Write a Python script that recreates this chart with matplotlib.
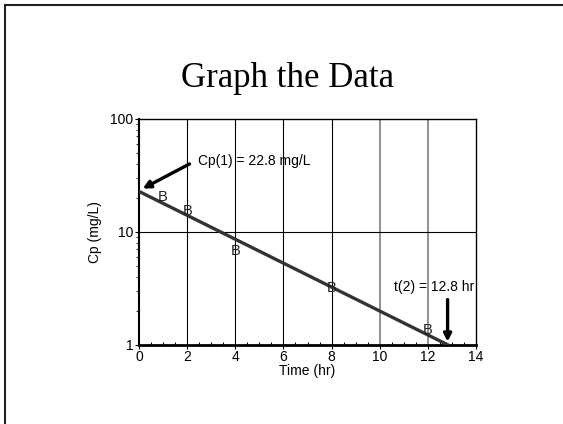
import matplotlib
matplotlib.use("Agg")
import matplotlib.pyplot as plt
import numpy as np
from matplotlib.ticker import MultipleLocator, LogLocator, NullFormatter, FixedLocator

# data
time_hr = [1, 2, 4, 8, 12]
cp_mgl = [20.2, 15.3, 6.8, 3.2, 1.34]
fit_t = [0, 12.8]
fit_cp = [22.8, 1.0]
x_ticks = [0, 2, 4, 6, 8, 10, 12, 14]
y_ticks = [1, 10, 100]

plt.rcParams['font.family'] = ['Liberation Sans', 'DejaVu Sans']

fig = plt.figure(figsize=(5.63, 4.24), dpi=100)
W, H = 563.0, 424.0

# slide border (top + left only visible)
fig.add_artist(plt.Line2D([5 / W, 5 / W], [0, 1 - 4.5 / H], color='#222222', lw=1.5))
fig.add_artist(plt.Line2D([5 / W, 1], [1 - 4.5 / H, 1 - 4.5 / H], color='#222222', lw=1.5))

fig.text(288 / W, 1 - 87 / H, 'Graph the Data', family='Liberation Serif', fontsize=25,
         ha='center', va='baseline')

ax = fig.add_axes([139 / W, 1 - 344.5 / H, (476 - 139) / W, (344.5 - 119) / H])
ax.set_yscale('log')
ax.set_xlim(0, 14)
ax.set_ylim(1, 100)

# grid lines
for gx in [2, 4, 6, 8]:
    ax.axvline(gx, color='black', lw=0.8, zorder=1)
for gx in [10, 12]:
    ax.axvline(gx, color='#888888', lw=1.3, zorder=1)
ax.axhline(10, color='black', lw=0.8, zorder=1)

ax.plot(fit_t, fit_cp, color='#333333', lw=2.4, zorder=3)
for t, c in zip(time_hr, cp_mgl):
    ax.text(t, c, 'B', fontsize=10.5, ha='center', va='center', color='#222222', zorder=4)

ax.annotate('', xy=(0.05, 23.5), xytext=(2.2, 41),
            arrowprops=dict(arrowstyle='-|>', color='black', lw=2.4, mutation_scale=11))
ax.text(2.45, 42, 'Cp(1) = 22.8 mg/L', fontsize=10, ha='left', va='center')

ax.annotate('', xy=(12.82, 1.0), xytext=(12.82, 2.65),
            arrowprops=dict(arrowstyle='-|>', color='black', lw=2.4, mutation_scale=11))
ax.text(12.25, 3.25, 't(2) = 12.8 hr', fontsize=10, ha='center', va='center')

ax.xaxis.set_major_locator(FixedLocator(x_ticks))
ax.xaxis.set_minor_locator(MultipleLocator(0.5))
ax.yaxis.set_major_locator(FixedLocator(y_ticks))
ax.yaxis.set_minor_locator(LogLocator(base=10, subs=np.arange(2, 10)))
ax.yaxis.set_minor_formatter(NullFormatter())
ax.set_yticklabels(['1', '10', '100'])
ax.tick_params(axis='both', which='major', labelsize=10, length=3, width=0.8, pad=1)
ax.tick_params(axis='x', which='minor', direction='in', length=2, width=0.8)
ax.tick_params(axis='y', which='minor', direction='out', length=2, width=0.6)
for s in ax.spines.values():
    s.set_linewidth(1.0)
ax.spines['bottom'].set_linewidth(2.0)
ax.spines['left'].set_linewidth(1.5)

ax.set_xlabel('Time (hr)', fontsize=10, labelpad=0)
ax.set_ylabel('Cp (mg/L)', fontsize=10, labelpad=6)

fig.savefig('out.png', dpi=100)
